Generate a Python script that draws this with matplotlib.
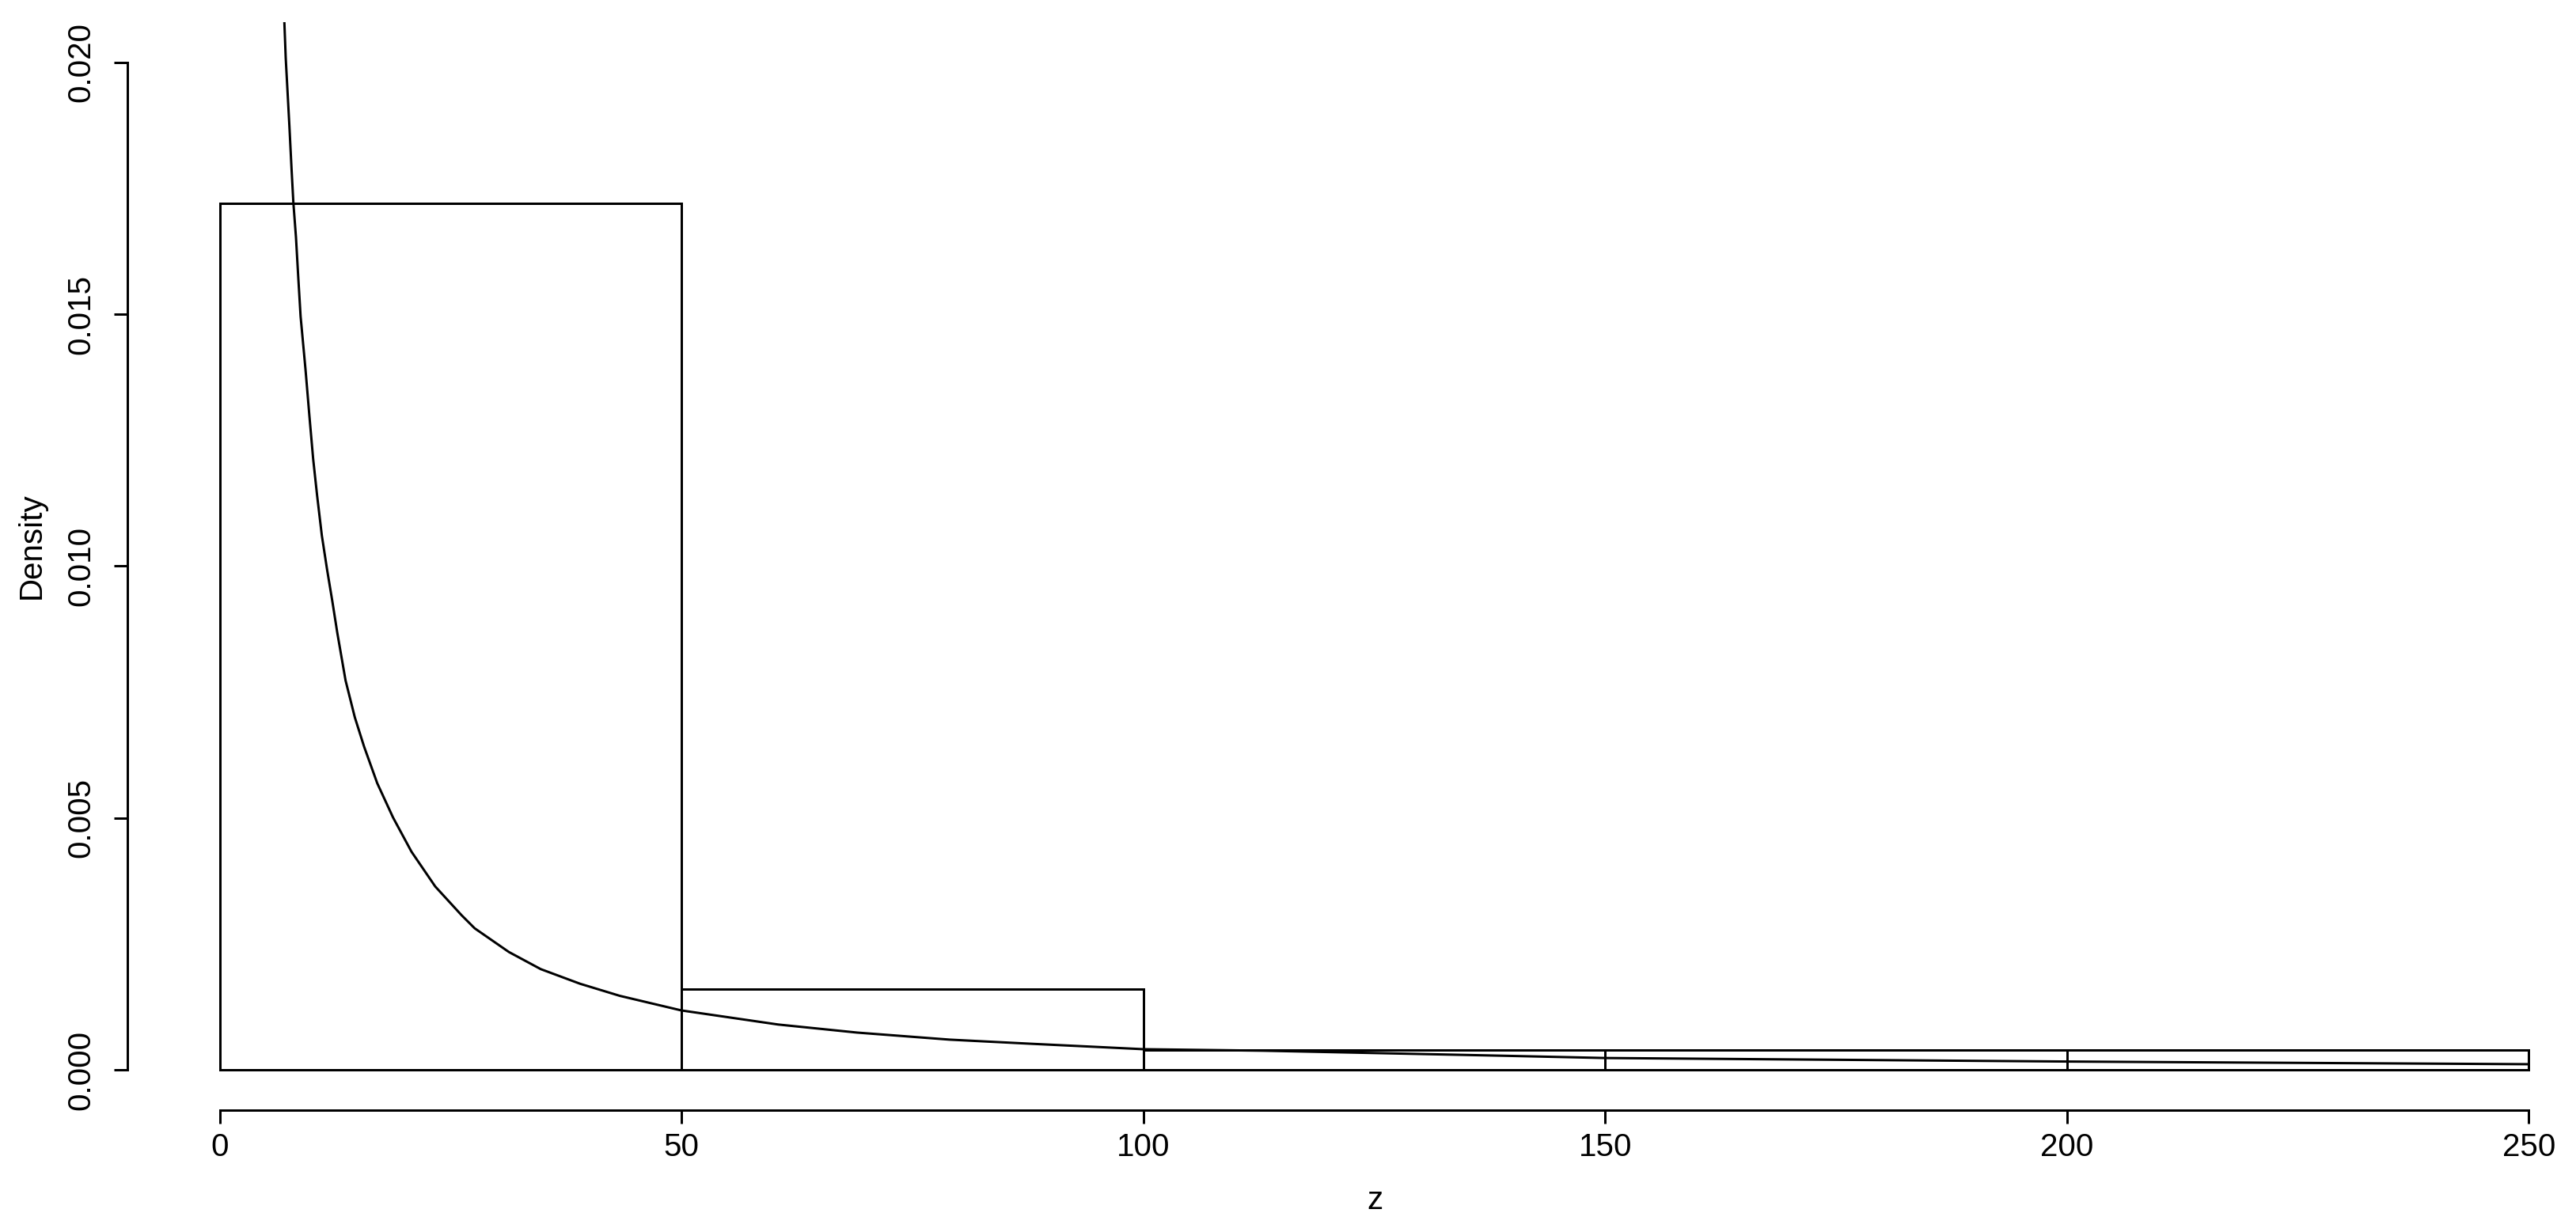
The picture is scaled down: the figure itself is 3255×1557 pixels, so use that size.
import matplotlib
matplotlib.use('Agg')
import matplotlib.pyplot as plt

plt.rcParams['font.family'] = ['Liberation Sans', 'DejaVu Sans']

# -------------------------------------------------
# data
# -------------------------------------------------
bin_edges = [0, 50, 100, 150, 200, 250]
density = [0.0172, 0.0016, 0.0004, 0.0004, 0.0004]

# fitted density curve
curve_z = [6.99, 7.14, 7.34, 7.54, 7.77, 7.97, 8.25, 8.48, 8.75, 9.28,
           9.71, 10.11, 10.54, 11.05, 11.62, 12.19, 12.73, 13.62, 14.62, 15.62,
           17.05, 18.76, 20.76, 23.33, 26.18, 27.6, 31.3, 34.75, 39.0, 43.3,
           49.97, 60.45, 69.0, 79.0, 87.6, 94.4, 100.0, 113.0, 139.0, 150.0,
           200.0, 250.0]
curve_d = [0.02081, 0.02009, 0.01941, 0.01873, 0.01789, 0.01721, 0.01653, 0.01579, 0.01496, 0.01391,
           0.01297, 0.01213, 0.01140, 0.01061, 0.00993, 0.00930, 0.00867, 0.00773, 0.00700, 0.00642,
           0.00569, 0.00501, 0.00433, 0.00364, 0.00307, 0.00281, 0.00234, 0.00200, 0.00171, 0.00147,
           0.00118, 0.00090, 0.00074, 0.00060, 0.00052, 0.00046, 0.00041, 0.00038, 0.00028, 0.000235,
           0.000165, 0.000112]

x_ticks = [0, 50, 100, 150, 200, 250]
y_ticks = [0.000, 0.005, 0.010, 0.015, 0.020]

# -------------------------------------------------
# R-style histogram with density curve
# -------------------------------------------------
W, H, DPI = 3255, 1557, 300
fig = plt.figure(figsize=(W / DPI, H / DPI), dpi=DPI)

# plot region in pixels: left 161, right 3312 (runs past the edge), top 28, bottom 1403
left, right, top, bottom = 161, 3312, 28, 1403
ax = fig.add_axes([left / W, 1 - bottom / H, (right - left) / W, (bottom - top) / H])

lw = 0.72
widths = [bin_edges[i + 1] - bin_edges[i] for i in range(len(density))]
ax.bar(bin_edges[:-1], density, width=widths, align='edge',
       facecolor='white', edgecolor='black', linewidth=lw)
ax.plot(curve_z, curve_d, color='black', linewidth=lw)

ax.set_xlim(-10, 260)
ax.set_ylim(-0.0008, 0.0208)

for s in ['top', 'right']:
    ax.spines[s].set_visible(False)
ax.spines['bottom'].set_bounds(0, 250)
ax.spines['left'].set_bounds(0, 0.02)
ax.spines['bottom'].set_linewidth(lw)
ax.spines['left'].set_linewidth(lw)

fs = 9.7
ax.set_xticks(x_ticks)
ax.set_xticklabels([str(t) for t in x_ticks])
ax.set_yticks(y_ticks)
ax.set_yticklabels(['%.3f' % t for t in y_ticks], rotation=90, va='center')
ax.tick_params(axis='both', direction='out', length=4.1, width=lw, labelsize=fs)
ax.tick_params(axis='x', pad=2.5)
ax.tick_params(axis='y', pad=5.5)

fig.text(40 / W, 1 - 690 / H, 'Density', rotation=90, ha='center', va='center', fontsize=fs)
fig.text((278 + 1459) / W, 1 - 1517 / H, 'z', ha='center', va='center', fontsize=fs)

fig.savefig('out.png', dpi=DPI, facecolor='white')
